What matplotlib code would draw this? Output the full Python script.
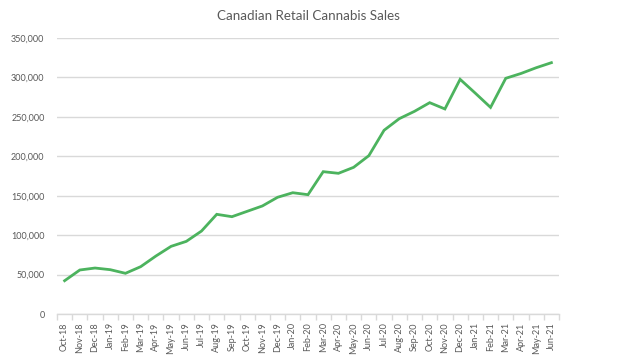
import matplotlib
matplotlib.use("Agg")
import matplotlib.pyplot as plt
import numpy as np
from matplotlib.ticker import FuncFormatter, FixedLocator

months = ["Oct-18", "Nov-18", "Dec-18", "Jan-19", "Feb-19", "Mar-19", "Apr-19", "May-19",
          "Jun-19", "Jul-19", "Aug-19", "Sep-19", "Oct-19", "Nov-19", "Dec-19", "Jan-20",
          "Feb-20", "Mar-20", "Apr-20", "May-20", "Jun-20", "Jul-20", "Aug-20", "Sep-20",
          "Oct-20", "Nov-20", "Dec-20", "Jan-21", "Feb-21", "Mar-21", "Apr-21", "May-21",
          "Jun-21"]
sales = [42200, 55800, 58300, 56200, 51600, 60000, 73500, 85800,
         92100, 105200, 126400, 123400, 130200, 137000, 148000, 153800,
         151300, 180500, 178400, 186000, 200800, 233000, 247700, 257000,
         268000, 260000, 297600, 280000, 262000, 298900, 305000, 312300,
         318700]
yticks = [0, 50000, 100000, 150000, 200000, 250000, 300000, 350000]

plt.rcParams['font.family'] = ['Lato', 'DejaVu Sans']
txt = '#595959'
grid = '#d9d9d9'

fig = plt.figure(figsize=(6.4, 3.56), dpi=100)
ax = fig.add_axes([57/640, 1-314/356, (559-57)/640, (314-38)/356])

x = np.arange(len(months))
ax.plot(x, sales, color='#4CB35E', linewidth=2.0, solid_joinstyle='miter', zorder=3)

ax.set_xlim(-0.5, len(months)-0.5)
ax.set_ylim(0, 350000)
ax.set_yticks(yticks)
ax.yaxis.set_major_formatter(FuncFormatter(lambda v, p: f"{int(v):,}"))
ax.grid(axis='y', color=grid, linewidth=1.0)
ax.set_axisbelow(True)
for s in ['top', 'right', 'left']:
    ax.spines[s].set_visible(False)
ax.spines['bottom'].set_color(grid)
ax.spines['bottom'].set_linewidth(1.0)

ax.set_xticks(x)
ax.set_xticklabels(months, rotation=90, fontsize=6.5, color=txt)
ax.xaxis.set_minor_locator(FixedLocator(np.arange(-0.5, len(months), 1)))
ax.tick_params(axis='x', which='major', length=0, pad=6)
ax.tick_params(axis='x', which='minor', length=4, color=grid, width=1.0)
ax.tick_params(axis='y', length=0, pad=9, labelsize=6.5, labelcolor=txt)

ax.set_title("Canadian Retail Cannabis Sales", fontsize=9.6, color=txt, pad=13)

fig.savefig("out.png", dpi=100)
